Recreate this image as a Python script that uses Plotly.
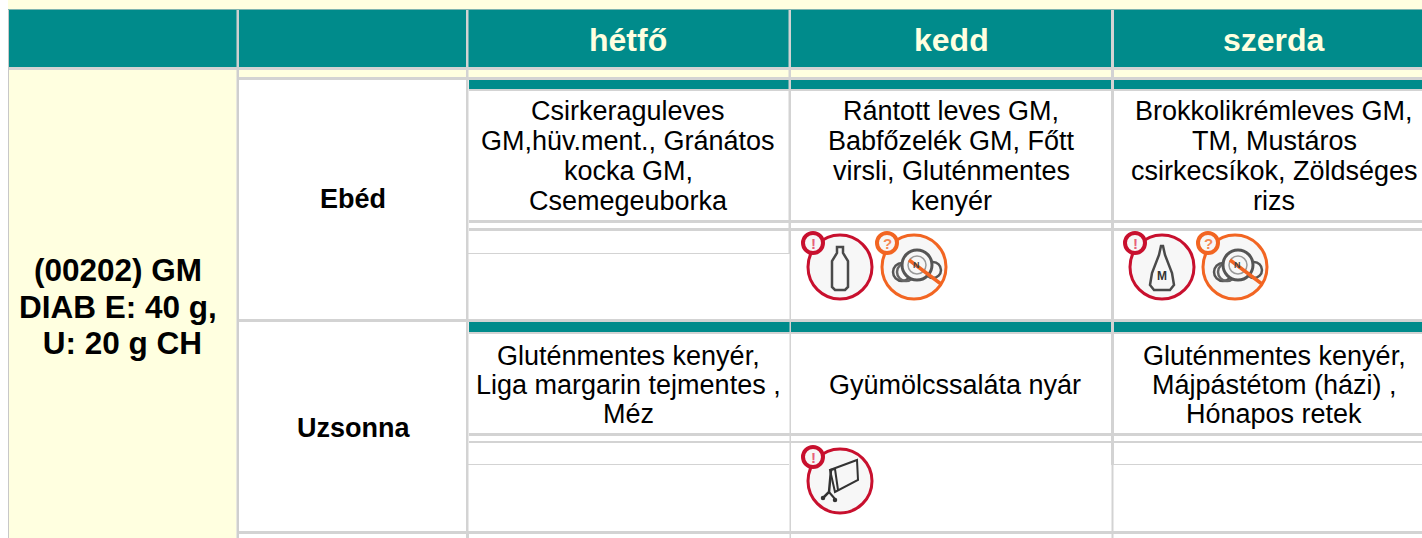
import plotly.graph_objects as go

# ---- content ----
days = ["hétfő", "kedd", "szerda"]
diet_lines = ["(00202) GM", "DIAB E: 40 g,", "\u00a0U: 20 g CH"]
meals = ["Ebéd", "Uzsonna"]
lunch = [
    ["Csirkeraguleves", "GM,hüv.ment., Gránátos", "kocka GM,", "Csemegeuborka"],
    ["Rántott leves GM,", "Babfőzelék GM, Főtt", "virsli, Gluténmentes", "kenyér"],
    ["Brokkolikrémleves GM,", "TM, Mustáros", "csirkecsíkok, Zöldséges", "rizs"],
]
snack = [
    ["Gluténmentes kenyér,", "Liga margarin tejmentes ,", "Méz"],
    ["Gyümölcssaláta nyár"],
    ["Gluténmentes kenyér,", "Májpástétom (házi) ,", "Hónapos retek"],
]
lunch_icons = [[], ["bottle", "plates"], ["mustard", "plates"]]
snack_icons = [[], ["cart"], []]

# ---- styles / layout ----
W, H = 1422, 538
TEAL, GREY, YEL, RED, ORG, INK = "#008B8B", "#D3D3D3", "#FFFFE0", "#C8102E", "#F26522", "#4A4A4A"
FONT = "Liberation Sans, Arial, sans-serif"
col_centers = [628, 951, 1274]
snack_centers = [628, 955, 1274]
shapes, ann = [], []


def rect(x0, y0, x1, y1, c):
    shapes.append(dict(type="rect", x0=x0, y0=y0, x1=x1, y1=y1, fillcolor=c,
                       line=dict(width=0), layer="below"))


def text(x, y, s, size, bold=False, color="black"):
    ann.append(dict(x=x, y=y, text=f"<b>{s}</b>" if bold else s, showarrow=False,
                    xanchor="center", yanchor="middle", align="center",
                    font=dict(family=FONT, size=size, color=color)))


def circ(cx, cy, r, stroke, width=3, fill=None):
    shapes.append(dict(type="circle", x0=cx - r, y0=cy - r, x1=cx + r, y1=cy + r,
                       line=dict(color=stroke, width=width),
                       fillcolor=fill or "rgba(0,0,0,0)"))


def path(cx, cy, pts, color=INK, width=2.5, close=False):
    d = "M" + " L".join(f"{cx + a} {cy + b}" for a, b in pts) + (" Z" if close else "")
    shapes.append(dict(type="path", path=d, line=dict(color=color, width=width)))


def icon(kind, cx, cy):
    c = ORG if kind == "plates" else RED
    circ(cx, cy, 32, c, 3, "#F7F7F7")
    bx, by = cx - 27, cy - 24
    circ(bx, by, 10, c, 4, "#F7F7F7")
    text(bx, by, "?" if kind == "plates" else "!", 15, True, "#E8607A" if c == RED else "#F58A55")
    if kind == "bottle":
        path(cx, cy, [(-3, -20), (3, -20), (3, -14), (8, -6), (8, 20), (5, 23), (-5, 23),
                      (-8, 20), (-8, -6), (-3, -14)], close=True)
    elif kind == "mustard":
        path(cx, cy, [(-1, -21), (1, -21), (3, -12), (10, 6), (12, 18), (8, 23), (-8, 23),
                      (-12, 18), (-10, 6), (-3, -12)], close=True)
        text(cx, cy + 9, "M", 12, True, "#333333")
    elif kind == "plates":
        circ(cx - 12, cy + 5, 9, "#555555", 2.5)
        circ(cx - 8, cy + 5, 9, "#666666", 2.5)
        circ(cx + 19, cy + 3, 8, "#555555", 2.5)
        circ(cx + 3, cy - 2, 15, "#555555", 3, "#F7F7F7")
        circ(cx + 3, cy - 2, 9, "#999999", 1.5)
        path(cx, cy, [(-5, -7), (27, 17)], ORG, 3.5)
        text(cx + 2, cy - 2, "N", 9, True, "#444444")
    elif kind == "cart":
        path(cx, cy, [(-10, -11), (17, -21), (18, -1), (-5, 11)], "#333333", 2, True)
        path(cx, cy, [(-10, -11), (-5, -12), (-2, 9)], "#333333", 2)
        path(cx, cy, [(-9, -11), (-11, 11), (-17, 17)], "#333333", 2.5)
        path(cx, cy, [(-11, 11), (-5, 18)], "#333333", 2)
        circ(cx - 17, cy + 17, 1.5, "#333333", 1.5, "#333333")
        circ(cx - 5, cy + 19, 1.5, "#333333", 1.5, "#333333")


# backgrounds
rect(8, 0, W, 9, YEL)
rect(8, 9, W, 10, "#7FB5B0")
rect(9, 10, W, 67, TEAL)
rect(8, 67, W, 70, GREY)
rect(9, 70, W, 77, YEL)
rect(9, 70, 236.5, H, YEL)
rect(8, 10, 9, H, "#C8C8C8")
# rule lines in the meal and day columns
rect(239, 77, W, 80, GREY)
rect(469, 80, W, 89, TEAL)
rect(469, 89, W, 91, GREY)
rect(469, 220, W, 223, GREY)
rect(469, 228, W, 231, GREY)
rect(239, 319, W, 322, GREY)
rect(469, 322, W, 332, TEAL)
rect(469, 332, W, 334, GREY)
rect(469, 433, W, 436, GREY)
rect(469, 441, W, 443, GREY)
rect(239, 531, W, 534, GREY)
rect(468, 253, 789, 254, GREY)
rect(468, 464, 789, 465, GREY)
rect(1113, 464, W, 465, GREY)
# vertical rules
rect(236.5, 10, 239, H, "#CFCFCF")
rect(466, 10, 468.5, 534, GREY)
rect(466, 534, 469, H, GREY)
rect(788.5, 10, 791, 254, GREY)
rect(789.5, 254, 791, H, GREY)
rect(1111, 10, 1114, 465, GREY)
rect(1111.5, 465, 1113.5, H, GREY)

# text
for c, d in zip(col_centers, days):
    text(c, 40, d, 32, True, YEL)
for y, s in zip([270, 307, 343], diet_lines):
    text(118, y, s, 31.5, True)
for y, s in zip([199, 428], meals):
    text(353, y, s, 27, True)
for c, lines in zip(col_centers, lunch):
    for i, s in enumerate(lines):
        text(c, 110.5 + i * 30.3, s, 27)
for c, lines in zip(snack_centers, snack):
    for i, s in enumerate(lines):
        text(c, 385 + (i - (len(lines) - 1) / 2) * 29, s, 27)

# allergen icons
lunch_x = {1: [840, 914], 2: [1162, 1235]}
for i, kinds in enumerate(lunch_icons):
    for k, kind in enumerate(kinds):
        icon(kind, lunch_x[i][k], 267)
for i, kinds in enumerate(snack_icons):
    for k, kind in enumerate(kinds):
        icon(kind, 840, 481)

fig = go.Figure()
fig.update_layout(
    width=W, height=H, margin=dict(l=0, r=0, t=0, b=0),
    paper_bgcolor="white", plot_bgcolor="white", showlegend=False,
    xaxis=dict(range=[0, W], visible=False, fixedrange=True),
    yaxis=dict(range=[H, 0], visible=False, fixedrange=True),
    shapes=shapes, annotations=ann,
)
fig.write_html("out.html", config=dict(displayModeBar=False),
               post_script="document.body.style.margin='0';document.body.style.overflow='hidden';")
